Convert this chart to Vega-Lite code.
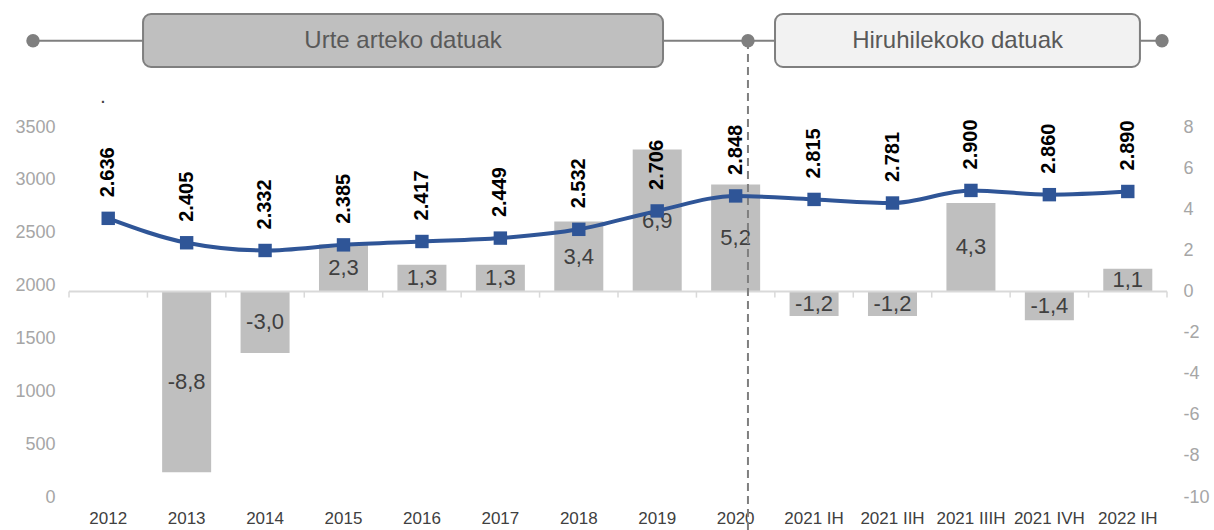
{
  "$schema": "https://vega.github.io/schema/vega-lite/v6.json",
  "width": 1098,
  "height": 370,
  "autosize": {"type": "none"},
  "padding": {"left": 69, "top": 127, "right": 47, "bottom": 33},
  "background": "white",
  "config": {
    "view": {"stroke": null},
    "font": "Liberation Sans",
    "locale": {"number": {"decimal": ",", "thousands": ".", "grouping": [3], "currency": ["", " €"], "minus": "-"}}
  },
  "data": {"values": [
    {"cat": "2012", "val": 2636},
    {"cat": "2013", "val": 2405, "pct": -8.8},
    {"cat": "2014", "val": 2332, "pct": -3.0},
    {"cat": "2015", "val": 2385, "pct": 2.3},
    {"cat": "2016", "val": 2417, "pct": 1.3},
    {"cat": "2017", "val": 2449, "pct": 1.3},
    {"cat": "2018", "val": 2532, "pct": 3.4},
    {"cat": "2019", "val": 2706, "pct": 6.9},
    {"cat": "2020", "val": 2848, "pct": 5.2},
    {"cat": "2021 IH", "val": 2815, "pct": -1.2},
    {"cat": "2021 IIH", "val": 2781, "pct": -1.2},
    {"cat": "2021 IIIH", "val": 2900, "pct": 4.3},
    {"cat": "2021 IVH", "val": 2860, "pct": -1.4},
    {"cat": "2022 IH", "val": 2890, "pct": 1.1}
  ]},
  "layer": [
    {
      "layer": [
        {
          "mark": {"type": "bar", "color": "#bfbfbf"},
          "encoding": {
            "x": {"field": "cat", "type": "nominal", "sort": null, "title": null,
                  "scale": {"type": "band", "paddingInner": 0.375, "paddingOuter": 0.1875,
                            "domain": ["2012", "2013", "2014", "2015", "2016", "2017", "2018", "2019", "2020", "2021 IH", "2021 IIH", "2021 IIIH", "2021 IVH", "2022 IH"]},
                  "axis": {"domain": false, "ticks": false, "tickSize": 0, "labelPadding": 13, "labelAngle": 0,
                           "labelFontSize": 17, "labelColor": "#404040", "labelOverlap": false, "labelFont": "Liberation Sans"}},
            "y": {"field": "pct", "type": "quantitative", "title": null,
                  "scale": {"domain": [-10, 8], "nice": false, "zero": false},
                  "axis": {"orient": "right", "values": [-10, -8, -6, -4, -2, 0, 2, 4, 6, 8], "format": "d",
                           "domain": false, "ticks": false, "tickSize": 0, "grid": false, "labelPadding": 16,
                           "labelFontSize": 18, "labelColor": "#a6a6a6", "labelFont": "Liberation Sans"}}
          }
        },
        {
          "mark": {"type": "rule", "color": "#d9d9d9", "strokeWidth": 1.5},
          "encoding": {
            "x": {"field": "cat", "type": "nominal", "sort": null, "bandPosition": -0.3},
            "y": {"datum": 0, "type": "quantitative"},
            "y2": {"datum": -0.3}
          }
        },
        {
          "transform": [{"filter": "datum.cat === '2022 IH'"}],
          "mark": {"type": "rule", "color": "#d9d9d9", "strokeWidth": 1.5},
          "encoding": {
            "x": {"field": "cat", "type": "nominal", "sort": null, "bandPosition": 1.3},
            "y": {"datum": 0, "type": "quantitative"},
            "y2": {"datum": -0.3}
          }
        },
        {
          "data": {"values": [{}]},
          "mark": {"type": "rule", "color": "#d9d9d9", "strokeWidth": 2},
          "encoding": {
            "y": {"datum": 0, "type": "quantitative"}
          }
        }
      ]
    },
    {
      "mark": {"type": "text", "fontSize": 22, "color": "#404040", "align": "center", "baseline": "middle", "font": "Liberation Sans"},
      "encoding": {
        "x": {"field": "cat", "type": "nominal", "sort": null,
              "scale": {"type": "band", "paddingInner": 0.375, "paddingOuter": 0.1875,
                        "domain": ["2012", "2013", "2014", "2015", "2016", "2017", "2018", "2019", "2020", "2021 IH", "2021 IIH", "2021 IIIH", "2021 IVH", "2022 IH"]},
              "axis": null},
        "y": {"field": "pct", "type": "quantitative",
              "scale": {"domain": [-20, 16], "nice": false, "zero": false}, "axis": null},
        "text": {"field": "pct", "type": "quantitative", "format": ".1f"}
      }
    },
    {
      "data": {"values": [{}]},
      "layer": [
        {
          "mark": {"type": "rule", "color": "#7f7f7f", "strokeWidth": 2, "strokeDash": [8, 5]},
          "encoding": {
            "x": {"datum": 8.657, "type": "quantitative", "scale": {"domain": [0, 14], "nice": false, "zero": false}, "axis": null},
            "y": {"datum": -0.089, "type": "quantitative", "scale": {"domain": [0, 1], "nice": false, "zero": false}, "axis": null},
            "y2": {"datum": 1.2332}
          }
        },
        {
          "mark": {"type": "rule", "color": "#7f7f7f", "strokeWidth": 2},
          "encoding": {
            "x": {"datum": -0.459, "type": "quantitative"},
            "x2": {"datum": 13.936},
            "y": {"datum": 1.2332, "type": "quantitative"}
          }
        },
        {
          "mark": {"type": "rect", "fill": "#bfbfbf", "stroke": "#7f7f7f", "strokeWidth": 2, "cornerRadius": 8},
          "encoding": {
            "x": {"datum": 0.944, "type": "quantitative"},
            "x2": {"datum": 7.574},
            "y": {"datum": 1.3054, "type": "quantitative"},
            "y2": {"datum": 1.1622}
          }
        },
        {
          "mark": {"type": "rect", "fill": "#f2f2f2", "stroke": "#7f7f7f", "strokeWidth": 2, "cornerRadius": 8},
          "encoding": {
            "x": {"datum": 9.002, "type": "quantitative"},
            "x2": {"datum": 13.655},
            "y": {"datum": 1.3054, "type": "quantitative"},
            "y2": {"datum": 1.1622}
          }
        },
        {
          "mark": {"type": "point", "filled": true, "opacity": 1, "color": "#7f7f7f", "size": 180, "shape": "circle"},
          "encoding": {
            "x": {"datum": -0.459, "type": "quantitative"},
            "y": {"datum": 1.2332, "type": "quantitative"}
          }
        },
        {
          "mark": {"type": "point", "filled": true, "opacity": 1, "color": "#7f7f7f", "size": 180, "shape": "circle"},
          "encoding": {
            "x": {"datum": 8.657, "type": "quantitative"},
            "y": {"datum": 1.2332, "type": "quantitative"}
          }
        },
        {
          "mark": {"type": "point", "filled": true, "opacity": 1, "color": "#7f7f7f", "size": 180, "shape": "circle"},
          "encoding": {
            "x": {"datum": 13.936, "type": "quantitative"},
            "y": {"datum": 1.2332, "type": "quantitative"}
          }
        },
        {
          "mark": {"type": "text", "text": "Urte arteko datuak", "fontSize": 24, "color": "#595959", "align": "center", "baseline": "middle", "font": "Liberation Sans"},
          "encoding": {
            "x": {"datum": 4.259, "type": "quantitative"},
            "y": {"datum": 1.2332, "type": "quantitative"}
          }
        },
        {
          "mark": {"type": "text", "text": "Hiruhilekoko datuak", "fontSize": 24, "color": "#595959", "align": "center", "baseline": "middle", "font": "Liberation Sans"},
          "encoding": {
            "x": {"datum": 11.33, "type": "quantitative"},
            "y": {"datum": 1.2332, "type": "quantitative"}
          }
        },
        {
          "mark": {"type": "text", "text": ".", "fontSize": 14, "fontWeight": "bold", "color": "#404040", "align": "center", "baseline": "middle", "font": "Liberation Sans"},
          "encoding": {
            "x": {"datum": 0.434, "type": "quantitative"},
            "y": {"datum": 1.075, "type": "quantitative"}
          }
        }
      ]
    },
    {
      "layer": [
        {
          "mark": {"type": "line", "color": "#2f5597", "strokeWidth": 4, "interpolate": "monotone"},
          "encoding": {
            "x": {"field": "cat", "type": "nominal", "sort": null,
                  "scale": {"type": "band", "paddingInner": 0.375, "paddingOuter": 0.1875,
                            "domain": ["2012", "2013", "2014", "2015", "2016", "2017", "2018", "2019", "2020", "2021 IH", "2021 IIH", "2021 IIIH", "2021 IVH", "2022 IH"]},
                  "axis": null},
            "y": {"field": "val", "type": "quantitative", "title": null,
                  "scale": {"domain": [0, 3500], "nice": false, "zero": false},
                  "axis": {"orient": "left", "values": [0, 500, 1000, 1500, 2000, 2500, 3000, 3500], "format": "d",
                           "domain": false, "ticks": false, "tickSize": 0, "grid": false, "labelPadding": 14,
                           "labelFontSize": 18, "labelColor": "#a6a6a6", "labelFont": "Liberation Sans"}}
          }
        },
        {
          "mark": {"type": "point", "shape": "square", "filled": true, "opacity": 1, "color": "#2f5597", "size": 180},
          "encoding": {
            "x": {"field": "cat", "type": "nominal", "sort": null},
            "y": {"field": "val", "type": "quantitative"}
          }
        },
        {
          "mark": {"type": "text", "angle": 270, "align": "left", "baseline": "middle", "dx": 21, "fontSize": 20, "fontWeight": "bold", "color": "#000000", "font": "Liberation Sans"},
          "encoding": {
            "x": {"field": "cat", "type": "nominal", "sort": null},
            "y": {"field": "val", "type": "quantitative"},
            "text": {"field": "val", "type": "quantitative", "format": ",.0f"}
          }
        }
      ]
    }
  ],
  "resolve": {"scale": {"x": "independent", "y": "independent"}, "axis": {"x": "independent", "y": "independent"}}
}
